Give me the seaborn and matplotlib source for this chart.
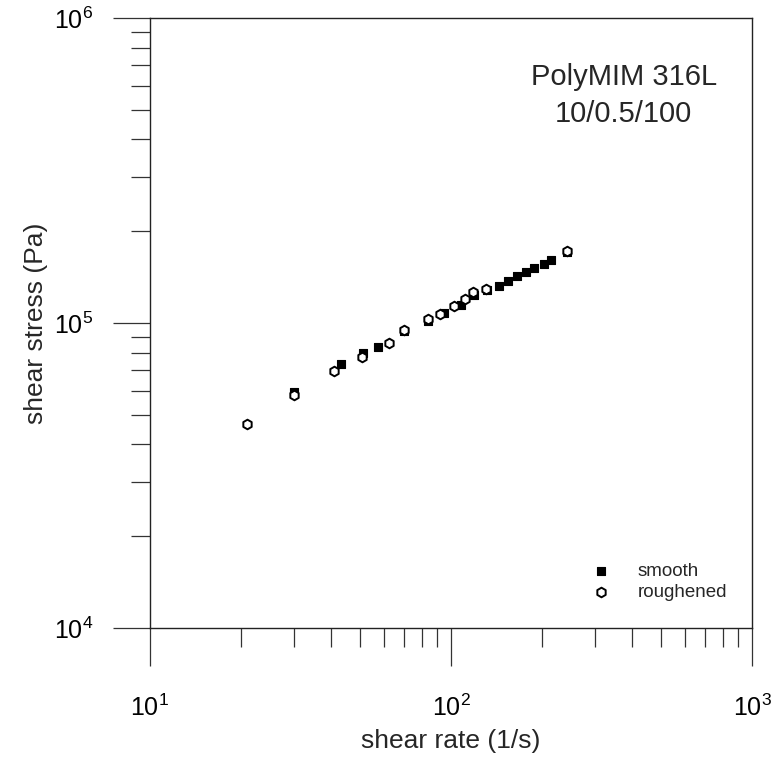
import matplotlib
matplotlib.use("Agg")
import matplotlib.pyplot as plt
import seaborn as sns
import pandas as pd
from matplotlib.ticker import LogLocator, NullFormatter

# ---- data ----
smooth_x = [30, 43, 51, 57, 70, 84, 95, 108, 119.5, 131.5, 144, 155, 166, 177, 189, 203, 215, 242]
smooth_y = [59500, 73200, 79500, 83500, 94200, 101700, 108000, 114500, 123600, 128300,
            132200, 137800, 142700, 146600, 151800, 156000, 161000, 171400]
rough_x = [21, 30, 41, 50.5, 62, 70, 84, 92, 102, 111.5, 118, 131, 242]
rough_y = [46700, 58200, 69600, 77500, 86100, 94800, 103000, 107000, 113800, 120000,
           126000, 129500, 172500]
series_labels = ["smooth", "roughened"]
title_text = "PolyMIM 316L\n10/0.5/100"
x_label = "shear rate (1/s)"
y_label = "shear stress (Pa)"

sns.set_style("ticks")
plt.rcParams["font.family"] = ["Liberation Sans", "DejaVu Sans"]
plt.rcParams["mathtext.default"] = "regular"

fig = plt.figure(figsize=(7.73, 7.57), dpi=100)
ax = fig.add_axes([0.194, 0.1704, 0.779, 0.8058])

df_s = pd.DataFrame({"x": smooth_x, "y": smooth_y})
df_r = pd.DataFrame({"x": rough_x, "y": rough_y})

sns.scatterplot(data=df_s, x="x", y="y", marker="s", s=34, color="black",
                edgecolor="black", linewidth=0.8, ax=ax, label=series_labels[0], zorder=3)
sns.scatterplot(data=df_r, x="x", y="y", marker="h", s=48, facecolor="white",
                edgecolor="black", linewidth=1.4, ax=ax, label=series_labels[1], zorder=4)

ax.set_xscale("log")
ax.set_yscale("log")
ax.set_xlim(10, 1000)
ax.set_ylim(1e4, 1e6)

ax.xaxis.set_major_locator(LogLocator(base=10, numticks=10))
ax.yaxis.set_major_locator(LogLocator(base=10, numticks=10))
ax.xaxis.set_minor_locator(LogLocator(base=10, subs=range(2, 10), numticks=20))
ax.yaxis.set_minor_locator(LogLocator(base=10, subs=range(2, 10), numticks=20))
ax.xaxis.set_minor_formatter(NullFormatter())
ax.yaxis.set_minor_formatter(NullFormatter())

for sp in ax.spines.values():
    sp.set_color("#222222")
    sp.set_linewidth(1.0)

ax.tick_params(which="major", direction="out", length=27, width=0.9, color="#333333",
               labelsize=18, pad=14, labelcolor="black")
ax.tick_params(which="minor", direction="out", length=13.5, width=0.9, color="#333333")
ax.tick_params(axis="x", which="major", pad=21)

ax.set_xlabel(x_label, fontsize=19, labelpad=6)
ax.set_ylabel(y_label, fontsize=19, labelpad=4)

ax.text(0.787, 0.873, title_text, transform=ax.transAxes, ha="center", va="center",
        fontsize=21, linespacing=1.45)

ax.legend(loc="lower left", bbox_to_anchor=(0.734, 0.045), frameon=False,
          fontsize=13.5, handlelength=1.0, handletextpad=1.45, labelspacing=0.2,
          borderpad=0, borderaxespad=0, markerscale=1.0)

fig.savefig("out.png", dpi=100)
